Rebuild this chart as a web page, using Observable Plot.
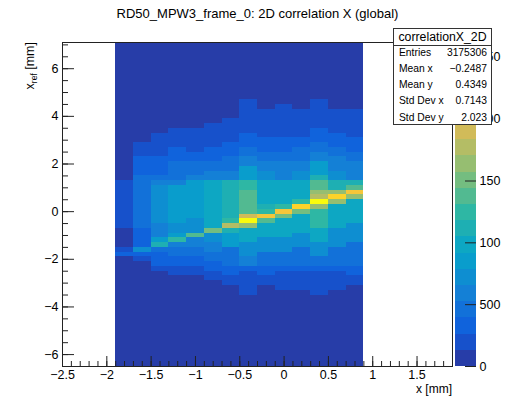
<!DOCTYPE html>
<html><head><meta charset="utf-8">
<script src="https://cdn.jsdelivr.net/npm/d3@7"></script>
<script src="https://cdn.jsdelivr.net/npm/@observablehq/plot@0.6"></script>
<style>
body{margin:0;background:#fff;}
#wrap{position:relative;width:515px;height:396px;overflow:hidden;font-family:"Liberation Sans",Arial,Helvetica,sans-serif;color:#000;}
#wrap svg{position:absolute;top:0;}
#title{position:absolute;left:0;width:515px;top:7px;text-align:center;font-size:13px;line-height:13px;white-space:nowrap;}
#stats{position:absolute;left:393px;top:28px;width:97px;height:95px;border:1px solid #333;background:#fff;font-size:10.3px;z-index:5;}
#stats .hd{position:absolute;left:0;top:0;width:97px;height:16px;line-height:16px;text-align:center;font-size:12.3px;border-bottom:1px solid #333;}
#stats .lb{position:absolute;left:5px;line-height:12px;}
#stats .vl{position:absolute;right:4px;line-height:12px;text-align:right;}
</style></head><body><div id="wrap"><div id="title"></div><div id="stats"></div></div>
<script>
const title = "RD50_MPW3_frame_0: 2D correlation X (global)";
const xTicks = [-2.5, -2, -1.5, -1, -0.5, 0, 0.5, 1, 1.5];
const xTickLabels = ["\u22122.5", "\u22122", "\u22121.5", "\u22121", "\u22120.5", "0", "0.5", "1", "1.5"];
const yTicks = [-6, -4, -2, 0, 2, 4, 6];
const yTickLabels = ["\u22126", "\u22124", "\u22122", "0", "2", "4", "6"];
const zTicks = [0, 500, 1000, 1500, 2000, 2500];
const zTickLabels = ["0", "500", "100", "150", "200", "250"];
const statsLabels = ["Entries", "Mean x", "Mean y", "Std Dev x", "Std Dev y"];
const statsValues = ["3175306", "\u22120.2487", "0.4349", "0.7143", "2.023"];
const statsName = "correlationX_2D";

// x bin edges of filled columns
const xEdges = [-1.9, -1.7, -1.5, -1.3, -1.1, -0.9, -0.7, -0.5, -0.3, -0.1, 0.1, 0.3, 0.5, 0.7, 0.9];
// each column: [y top, y bottom, bin content]
const col0 = [[7.1,1.3,60],[1.3,-0.7,190],[-0.7,-1.5,60],[-1.5,-1.7,190],[-1.7,-1.9,330],[-1.9,-6.5,60]];
const col1 = [[7.1,2.9,60],[2.9,2.3,190],[2.3,1.5,330],[1.5,-0.7,460],[-0.7,-1.5,330],[-1.5,-1.7,720],[-1.7,-1.9,330],[-1.9,-2.1,190],[-2.1,-6.5,60]];
const col2 = [[7.1,3.3,60],[3.3,2.3,190],[2.3,1.5,330],[1.5,1.3,460],[1.3,1.1,590],[1.1,-0.5,720],[-0.5,-1.1,590],[-1.1,-1.3,850],[-1.3,-1.5,1110],[-1.5,-1.7,460],[-1.7,-2.3,330],[-2.3,-2.5,190],[-2.5,-6.5,60]];
const col3 = [[7.1,3.5,60],[3.5,2.7,190],[2.7,2.1,330],[2.1,1.3,460],[1.3,1.1,590],[1.1,-0.5,850],[-0.5,-0.9,720],[-0.9,-1.1,850],[-1.1,-1.3,1240],[-1.3,-1.5,590],[-1.5,-1.9,460],[-1.9,-2.3,330],[-2.3,-2.7,190],[-2.7,-6.5,60]];
const col4 = [[7.1,3.5,60],[3.5,2.5,190],[2.5,2.1,330],[2.1,1.5,460],[1.5,1.3,590],[1.3,-0.3,850],[-0.3,-0.9,720],[-0.9,-1.1,1370],[-1.1,-1.5,590],[-1.5,-1.9,460],[-1.9,-2.3,330],[-2.3,-2.7,190],[-2.7,-6.5,60]];
const col5 = [[7.1,3.7,60],[3.7,2.7,190],[2.7,2.1,330],[2.1,1.7,460],[1.7,1.3,590],[1.3,-0.7,980],[-0.7,-0.9,1500],[-0.9,-1.3,720],[-1.3,-1.7,590],[-1.7,-2.1,460],[-2.1,-2.5,330],[-2.5,-2.9,190],[-2.9,-6.5,60]];
const col6 = [[7.1,3.9,60],[3.9,2.9,190],[2.9,2.3,330],[2.3,1.7,460],[1.7,1.3,590],[1.3,-0.3,1110],[-0.3,-0.5,1240],[-0.5,-0.7,1770],[-0.7,-0.9,1110],[-0.9,-1.5,850],[-1.5,-2.3,460],[-2.3,-2.7,330],[-2.7,-3.1,190],[-3.1,-6.5,60]];
const col7 = [[7.1,4.7,60],[4.7,3.3,190],[3.3,2.7,330],[2.7,2.3,460],[2.3,1.9,590],[1.9,1.3,790],[1.3,0.9,1240],[0.9,-0.1,1420],[-0.1,-0.3,1900],[-0.3,-0.5,2600],[-0.5,-0.7,1640],[-0.7,-1.3,1040],[-1.3,-1.9,720],[-1.9,-2.3,590],[-2.3,-2.5,330],[-2.5,-3.5,190],[-3.5,-6.5,60]];
const col8 = [[7.1,4.3,60],[4.3,3.1,190],[3.1,2.5,330],[2.5,2.1,460],[2.1,1.7,590],[1.7,1.3,720],[1.3,0.3,980],[0.3,0.1,1110],[0.1,-0.1,1240],[-0.1,-0.3,2160],[-0.3,-0.5,1370],[-0.5,-1.1,1040],[-1.1,-1.7,720],[-1.7,-2.3,520],[-2.3,-2.7,330],[-2.7,-3.1,190],[-3.1,-6.5,60]];
const col9 = [[7.1,4.5,60],[4.5,3.1,190],[3.1,2.5,330],[2.5,2.1,460],[2.1,1.3,590],[1.3,0.3,980],[0.3,0.1,1240],[0.1,-0.1,2160],[-0.1,-0.3,1500],[-0.3,-1.1,1040],[-1.1,-1.7,720],[-1.7,-2.3,520],[-2.3,-2.5,330],[-2.5,-3.3,190],[-3.3,-6.5,60]];
const col10 = [[7.1,4.3,60],[4.3,3.1,190],[3.1,2.7,330],[2.7,2.1,460],[2.1,1.7,590],[1.7,1.3,720],[1.3,0.5,980],[0.5,0.3,1240],[0.3,0.1,2290],[0.1,-0.1,1500],[-0.1,-0.9,1040],[-0.9,-1.5,720],[-1.5,-2.3,520],[-2.3,-2.5,330],[-2.5,-3.3,190],[-3.3,-6.5,60]];
const col11 = [[7.1,4.7,60],[4.7,3.5,190],[3.5,2.9,330],[2.9,2.5,460],[2.5,2.1,590],[2.1,1.5,790],[1.5,1.3,1110],[1.3,0.9,1370],[0.9,0.7,1640],[0.7,0.5,1770],[0.5,0.3,2600],[0.3,0.1,1640],[0.1,-0.7,1300],[-0.7,-1.3,1040],[-1.3,-1.9,720],[-1.9,-2.3,520],[-2.3,-2.5,330],[-2.5,-3.5,190],[-3.5,-6.5,60]];
const col12 = [[7.1,4.3,60],[4.3,3.3,190],[3.3,2.7,330],[2.7,2.3,460],[2.3,1.7,590],[1.7,1.3,720],[1.3,0.9,1110],[0.9,0.7,1640],[0.7,0.5,2290],[0.5,0.3,1640],[0.3,-0.7,1040],[-0.7,-1.5,720],[-1.5,-2.3,520],[-2.3,-2.5,330],[-2.5,-3.3,190],[-3.3,-6.5,60]];
const col13 = [[7.1,4.3,60],[4.3,3.1,190],[3.1,2.5,330],[2.5,2.1,460],[2.1,1.3,590],[1.3,1.1,1110],[1.1,0.9,1420],[0.9,0.7,2160],[0.7,0.5,1640],[0.5,-0.5,1040],[-0.5,-1.3,720],[-1.3,-2.3,520],[-2.3,-2.7,330],[-2.7,-3.1,190],[-3.1,-6.5,60]];
const columns = [col0,col1,col2,col3,col4,col5,col6,col7,col8,col9,col10,col11,col12,col13];

// ROOT kBird palette stops
const birdStops = [0, 0.125, 0.25, 0.375, 0.5, 0.625, 0.75, 0.875, 1];
const birdR = [0.2082, 0.0592, 0.0780, 0.0232, 0.1802, 0.5301, 0.8186, 0.9956, 0.9764];
const birdG = [0.1664, 0.3599, 0.5041, 0.6419, 0.7178, 0.7492, 0.7328, 0.7862, 0.9832];
const birdB = [0.5293, 0.8684, 0.8385, 0.7914, 0.6425, 0.4662, 0.3499, 0.1968, 0.0539];
const zMax = 2620, nLevels = 20;

const sR = d3.scaleLinear().domain(birdStops).range(birdR);
const sG = d3.scaleLinear().domain(birdStops).range(birdG);
const sB = d3.scaleLinear().domain(birdStops).range(birdB);
const levelColors = d3.range(nLevels).map(k => {
  const t = Math.floor((k + 0.99) * 255 / nLevels) / 254;
  return d3.rgb(sR(t) * 255, sG(t) * 255, sB(t) * 255).formatHex();
});
const thresholds = d3.range(1, nLevels).map(k => k * zMax / nLevels);
const colorScale = {type: "threshold", domain: thresholds, range: levelColors};

const cells = [];
columns.forEach((col, i) => col.forEach(([top, bottom, z]) =>
  cells.push({x1: xEdges[i], x2: xEdges[i + 1], y1: bottom, y2: top, z})));

const xMinor = d3.range(-25, 20).map(v => v / 10);
const yMinor = d3.range(-13, 15).map(v => v / 2);
const W = 515, H = 396, mL = 62, mR = 63, mT = 42, mB = 30;
const fw = W - mL - mR, fh = H - mT - mB;
const font = "Liberation Sans, Arial, Helvetica, sans-serif";

const main = Plot.plot({
  width: W, height: H, marginLeft: mL, marginRight: mR, marginTop: mT, marginBottom: mB,
  x: {domain: [-2.5, 1.9], axis: null},
  y: {domain: [-6.5, 7.1], axis: null},
  color: colorScale,
  style: {fontFamily: font, fontSize: "12.5px", color: "#000", background: "transparent"},
  marks: [
    Plot.rect(cells, {x1: "x1", x2: "x2", y1: "y1", y2: "y2", fill: "z", shapeRendering: "crispEdges"}),
    Plot.tickX(xMinor, {stroke: "#222", insetTop: fh - 5}),
    Plot.tickX(xTicks, {stroke: "#222", insetTop: fh - 10}),
    Plot.tickY(yMinor, {stroke: "#222", insetRight: fw - 6}),
    Plot.tickY(yTicks, {stroke: "#222", insetRight: fw - 12}),
    Plot.frame({stroke: "#222"}),
    Plot.axisX({ticks: xTicks, tickSize: 0, tickPadding: 4, tickFormat: d => xTickLabels[xTicks.indexOf(d)], label: null, fontSize: 12.5}),
    Plot.axisY({ticks: yTicks, tickSize: 0, tickPadding: 4, tickFormat: d => yTickLabels[yTicks.indexOf(d)], label: null, fontSize: 12.5})
  ]
});
main.style.left = "0px";

const svgm = d3.select(main);
svgm.append("text").attr("x", mL + fw).attr("y", 393).attr("text-anchor", "end")
  .attr("font-size", 12).attr("font-family", font).text("x [mm]");
const yl = svgm.append("text").attr("transform", "translate(34,42) rotate(-90)")
  .attr("text-anchor", "end").attr("font-size", 12.5).attr("font-family", font);
yl.append("tspan").text("x");
yl.append("tspan").attr("font-size", 8.5).attr("dy", 3).text("ref");
yl.append("tspan").attr("dy", -3).text(" [mm]");

const levels = d3.range(nLevels).map(k => ({lo: k * zMax / nLevels, hi: (k + 1) * zMax / nLevels}));
const pal = Plot.plot({
  width: 60, height: H, marginLeft: 0, marginRight: 39, marginTop: mT, marginBottom: mB,
  x: {domain: [0, 1], axis: null},
  y: {domain: [0, zMax], axis: null},
  color: colorScale,
  style: {fontFamily: font, fontSize: "12.5px", color: "#000", background: "transparent"},
  marks: [
    Plot.rect(levels, {x1: 0, x2: 1, y1: "lo", y2: "hi", fill: d => (d.lo + d.hi) / 2, shapeRendering: "crispEdges"}),
    Plot.tickY(zTicks, {stroke: "#222", insetLeft: 10}),
    Plot.axisY({anchor: "right", ticks: zTicks, tickSize: 0, tickPadding: 3, tickFormat: d => zTickLabels[zTicks.indexOf(d)], label: null, fontSize: 12.5})
  ]
});
pal.style.left = "455px";

const wrap = document.getElementById("wrap");
wrap.insertBefore(pal, wrap.firstChild);
wrap.insertBefore(main, wrap.firstChild);
document.getElementById("title").textContent = title;

const st = document.getElementById("stats");
const hd = document.createElement("div"); hd.className = "hd"; hd.textContent = statsName; st.appendChild(hd);
const rowCenters = [24, 40, 55.5, 72, 88.5];
statsLabels.forEach((l, i) => {
  const a = document.createElement("div"); a.className = "lb"; a.style.top = (rowCenters[i] - 6) + "px"; a.textContent = l; st.appendChild(a);
  const b = document.createElement("div"); b.className = "vl"; b.style.top = (rowCenters[i] - 6) + "px"; b.textContent = statsValues[i]; st.appendChild(b);
});
</script></body></html>
